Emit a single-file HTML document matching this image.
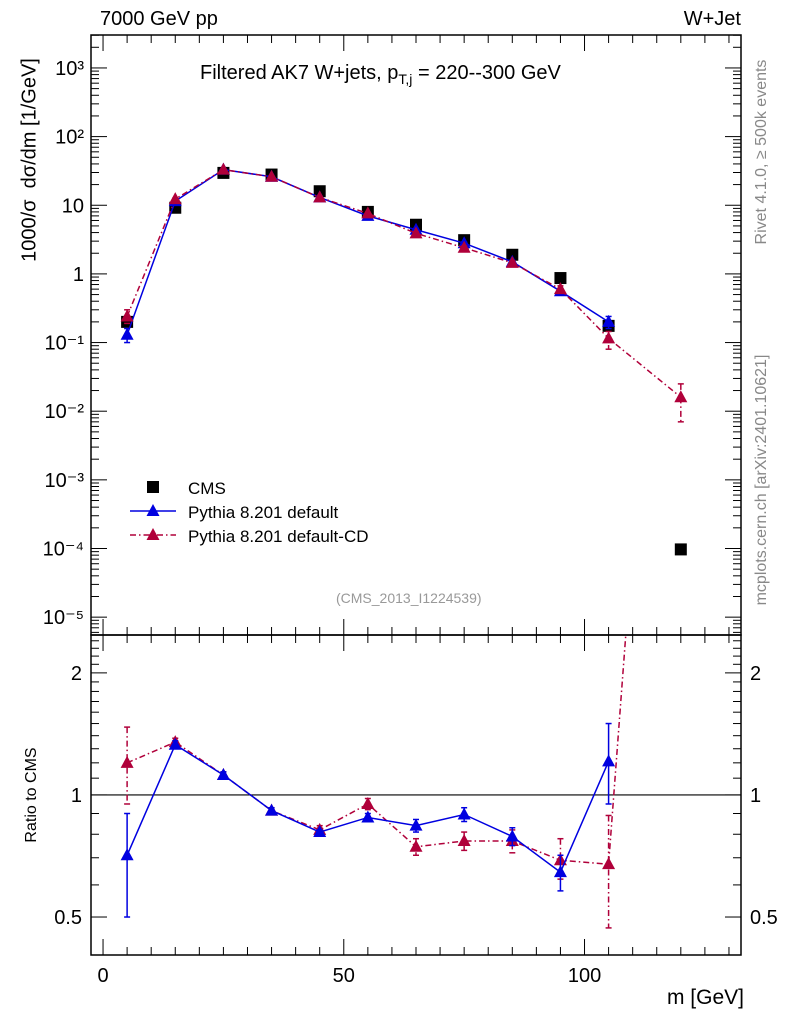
<!DOCTYPE html>
<html><head><meta charset="utf-8"><style>
html,body{margin:0;padding:0;background:#fff;}
svg{display:block;font-family:"Liberation Sans",sans-serif;}
</style></head><body>
<svg id="c" width="786" height="1024" xmlns="http://www.w3.org/2000/svg"></svg>
<script>
const xs=[5,15,25,35,45,55,65,75,85,95,105,120];
const cmsVals=[0.2,9.2,29.6,28,16,8,5.2,3.1,1.9,0.87,0.175,0.000097];
const blueVals=[0.13,11.5,33,26,13,7,4.4,2.8,1.5,0.56,0.2];
const blueErr=[0.03,0.4,0.8,0.6,0.3,0.2,0.15,0.12,0.08,0.05,0.04];
const redVals=[0.24,12.3,33,26,13,7.6,3.9,2.4,1.45,0.6,0.115,0.016];
const redErrLo=[0.05,0.4,0.8,0.6,0.3,0.2,0.2,0.15,0.1,0.07,0.035,0.009];
const redErrHi=[0.06,0.4,0.8,0.6,0.3,0.2,0.2,0.15,0.1,0.07,0.03,0.009];
const blueRatio=[0.71,1.33,1.12,0.915,0.81,0.88,0.84,0.895,0.79,0.645,1.21];
const blueRatioLo=[0.5,1.30,1.10,0.90,0.80,0.86,0.81,0.86,0.75,0.58,0.95];
const blueRatioHi=[0.90,1.36,1.14,0.93,0.82,0.90,0.87,0.93,0.83,0.71,1.5];
const redRatio=[1.2,1.35,1.12,0.915,0.82,0.95,0.745,0.77,0.77,0.69,0.675,160];
const redRatioLo=[0.95,1.32,1.10,0.90,0.80,0.92,0.71,0.73,0.72,0.62,0.47,70];
const redRatioHi=[1.47,1.38,1.14,0.93,0.84,0.98,0.78,0.81,0.82,0.78,0.89,260];
const xTicks=[0,50,100];
const topTicks=[3,2,1,0,-1,-2,-3,-4,-5];
const topTickLabels=["10³","10²","10","1","10⁻¹","10⁻²","10⁻³","10⁻⁴","10⁻⁵"];
const ratioTicks=[2,1,0.5];
const ratioTickLabels=["2","1","0.5"];

const NS="http://www.w3.org/2000/svg";
const svg=document.getElementById('c');
const L=91,R=741,T1=35,B1=635,T2=635,B2=955;
const X0=-2.5,X1=132.5;
function sx(v){return L+(v-X0)/(X1-X0)*(R-L);}
const LT=3.48,LB=-5.26;
function sy(v){return T1+(LT-Math.log10(v))/(LT-LB)*(B1-T1);}
const RT=Math.log10(2.48),RB=Math.log10(0.403);
function ry(v){return T2+(RT-Math.log10(v))/(RT-RB)*(B2-T2);}
function el(tag,attrs,parent){const e=document.createElementNS(NS,tag);for(const k in attrs)e.setAttribute(k,attrs[k]);(parent||svg).appendChild(e);return e;}
function txt(x,y,s,attrs,parent){const t=el('text',Object.assign({x:x,y:y},attrs||{}),parent);t.textContent=s;return t;}

const defs=el('defs',{});
const c1=el('clipPath',{id:'cp1'},defs);el('rect',{x:L,y:T1,width:R-L,height:B1-T1},c1);
const c2=el('clipPath',{id:'cp2'},defs);el('rect',{x:L,y:T2,width:R-L,height:B2-T2},c2);

const f1=el('rect',{x:L,y:T1,width:R-L,height:B1-T1,fill:'none',stroke:'#000','stroke-width':1.5});

const f2=el('rect',{x:L,y:T2,width:R-L,height:B2-T2,fill:'none',stroke:'#000','stroke-width':1.5});


for(let v=0;v<=130;v+=5){
  const major=v%50===0;const len=major?16:8;
  const x=sx(v);
  el('line',{x1:x,y1:B1,x2:x,y2:B1-len,stroke:'#000'});
  el('line',{x1:x,y1:T1,x2:x,y2:T1+len,stroke:'#000'});
  el('line',{x1:x,y1:B2,x2:x,y2:B2-len,stroke:'#000'});
  el('line',{x1:x,y1:T2,x2:x,y2:T2+len,stroke:'#000'});
}
xTicks.forEach(v=>{const t=txt(sx(v),982,String(v),{'font-size':20,'text-anchor':'middle'});
});

for(let d=-6;d<=3;d++){
  for(let m=1;m<=9;m++){
    const v=m*Math.pow(10,d);const lv=Math.log10(v);
    if(lv>LT||lv<LB)continue;
    const y=sy(v);const len=m===1?16:8;
    el('line',{x1:L,y1:y,x2:L+len,y2:y,stroke:'#000'});
    el('line',{x1:R,y1:y,x2:R-len,y2:y,stroke:'#000'});
  }
}
topTicks.forEach((d,i)=>{const t=txt(84,sy(Math.pow(10,d))+7,topTickLabels[i],{'font-size':20,'text-anchor':'end'});
});

for(let v=0.4;v<=2.5001;v+=0.1){
  const vv=Math.round(v*10)/10;if(vv<0.403||vv>2.48)continue;
  const y=ry(vv);const major=(vv===0.5||vv===1||vv===2);const len=major?16:8;
  el('line',{x1:L,y1:y,x2:L+len,y2:y,stroke:'#000'});
  el('line',{x1:R,y1:y,x2:R-len,y2:y,stroke:'#000'});
}
ratioTicks.forEach((v,i)=>{
  const t=txt(82,ry(v)+7,ratioTickLabels[i],{'font-size':20,'text-anchor':'end'});
  
  const t2=txt(750,ry(v)+7,ratioTickLabels[i],{'font-size':20});
  
});
const one=el('line',{x1:L,y1:ry(1),x2:R,y2:ry(1),stroke:'#000','stroke-width':1.2});


function tri(g,x,y,col){el('path',{d:`M${x} ${y-7}L${x+6.5} ${y+5}L${x-6.5} ${y+5}Z`,fill:col},g);}
function errbar(g,x,y1,y2,col,dash){
  el('line',{x1:x,y1:y1,x2:x,y2:y2,stroke:col,'stroke-width':1.5,'stroke-dasharray':dash||'none'},g);
  el('line',{x1:x-3,y1:y1,x2:x+3,y2:y1,stroke:col,'stroke-width':1.5},g);
  el('line',{x1:x-3,y1:y2,x2:x+3,y2:y2,stroke:col,'stroke-width':1.5},g);
}
const BLUE='#0000e0',RED='#b0003a',DASH='6,3,1.5,3';

const gCms=el('g',{'clip-path':'url(#cp1)'});

const gBlue=el('g',{'clip-path':'url(#cp1)'});

const gRed=el('g',{'clip-path':'url(#cp1)'});


el('polyline',{points:redVals.map((v,i)=>sx(xs[i])+','+sy(v)).join(' '),fill:'none',stroke:RED,'stroke-width':1.5,'stroke-dasharray':DASH},gRed);
redVals.forEach((v,i)=>{errbar(gRed,sx(xs[i]),sy(v+redErrHi[i]),sy(Math.max(v-redErrLo[i],1e-9)),RED,DASH);tri(gRed,sx(xs[i]),sy(v),RED);});
el('polyline',{points:blueVals.map((v,i)=>sx(xs[i])+','+sy(v)).join(' '),fill:'none',stroke:BLUE,'stroke-width':1.5},gBlue);
blueVals.forEach((v,i)=>{errbar(gBlue,sx(xs[i]),sy(v+blueErr[i]),sy(v-blueErr[i]),BLUE);tri(gBlue,sx(xs[i]),sy(v),BLUE);});
cmsVals.forEach((v,i)=>{const r=el('rect',{x:sx(xs[i])-6,y:sy(v)-6,width:12,height:12,fill:'#000'},gCms);
});
svg.appendChild(gBlue);svg.appendChild(gRed);

const rRed=el('g',{'clip-path':'url(#cp2)'});

el('polyline',{points:redRatio.map((v,i)=>sx(xs[i])+','+ry(v)).join(' '),fill:'none',stroke:RED,'stroke-width':1.5,'stroke-dasharray':DASH},rRed);
redRatio.forEach((v,i)=>{errbar(rRed,sx(xs[i]),ry(redRatioHi[i]),ry(redRatioLo[i]),RED,DASH);tri(rRed,sx(xs[i]),ry(v),RED);});
const rBlue=el('g',{'clip-path':'url(#cp2)'});

el('polyline',{points:blueRatio.map((v,i)=>sx(xs[i])+','+ry(v)).join(' '),fill:'none',stroke:BLUE,'stroke-width':1.5},rBlue);
blueRatio.forEach((v,i)=>{errbar(rBlue,sx(xs[i]),ry(blueRatioHi[i]),ry(blueRatioLo[i]),BLUE);tri(rBlue,sx(xs[i]),ry(v),BLUE);});

const lg=el('g',{});
el('rect',{x:147,y:481,width:12,height:12,fill:'#000'},lg);
txt(188,494,'CMS',{'font-size':17},lg);
el('line',{x1:130,y1:511,x2:176,y2:511,stroke:BLUE,'stroke-width':1.5},lg);tri(lg,153,511,BLUE);
txt(188,518,'Pythia 8.201 default',{'font-size':17},lg);
el('line',{x1:130,y1:535,x2:176,y2:535,stroke:RED,'stroke-width':1.5,'stroke-dasharray':DASH},lg);tri(lg,153,535,RED);
txt(188,542,'Pythia 8.201 default-CD',{'font-size':17},lg);
</script>
<div style="position:absolute;left:0;top:0;width:786px;height:1024px;pointer-events:none;font-family:'Liberation Sans',sans-serif;">
<div style="position:absolute;left:100px;top:8px;font-size:20px;">7000 GeV pp</div>
<div style="position:absolute;right:45px;top:8px;font-size:20px;">W+Jet</div>
<div style="position:absolute;left:200px;top:62px;font-size:20px;white-space:nowrap;">Filtered AK7 W+jets, p<sub style="font-size:14px;">T,j</sub> = 220--300 GeV</div>
<div style="position:absolute;left:336px;top:590px;font-size:14px;color:#999;">(CMS_2013_I1224539)</div>
<div style="position:absolute;right:42px;top:986px;font-size:21px;">m [GeV]</div>
<div style="position:absolute;left:30px;top:160px;transform:translate(-50%,-50%) rotate(-90deg);font-size:20px;white-space:nowrap;">1000/σ &nbsp;dσ/dm [1/GeV]</div>
<div style="position:absolute;left:32px;top:795px;transform:translate(-50%,-50%) rotate(-90deg);font-size:16px;white-space:nowrap;">Ratio to CMS</div>
<div style="position:absolute;left:762px;top:152px;transform:translate(-50%,-50%) rotate(-90deg);font-size:16px;color:#888;white-space:nowrap;">Rivet 4.1.0, ≥ 500k events</div>
<div style="position:absolute;left:762px;top:480px;transform:translate(-50%,-50%) rotate(-90deg);font-size:16px;color:#888;white-space:nowrap;">mcplots.cern.ch [arXiv:2401.10621]</div>
</div>
</body></html>
